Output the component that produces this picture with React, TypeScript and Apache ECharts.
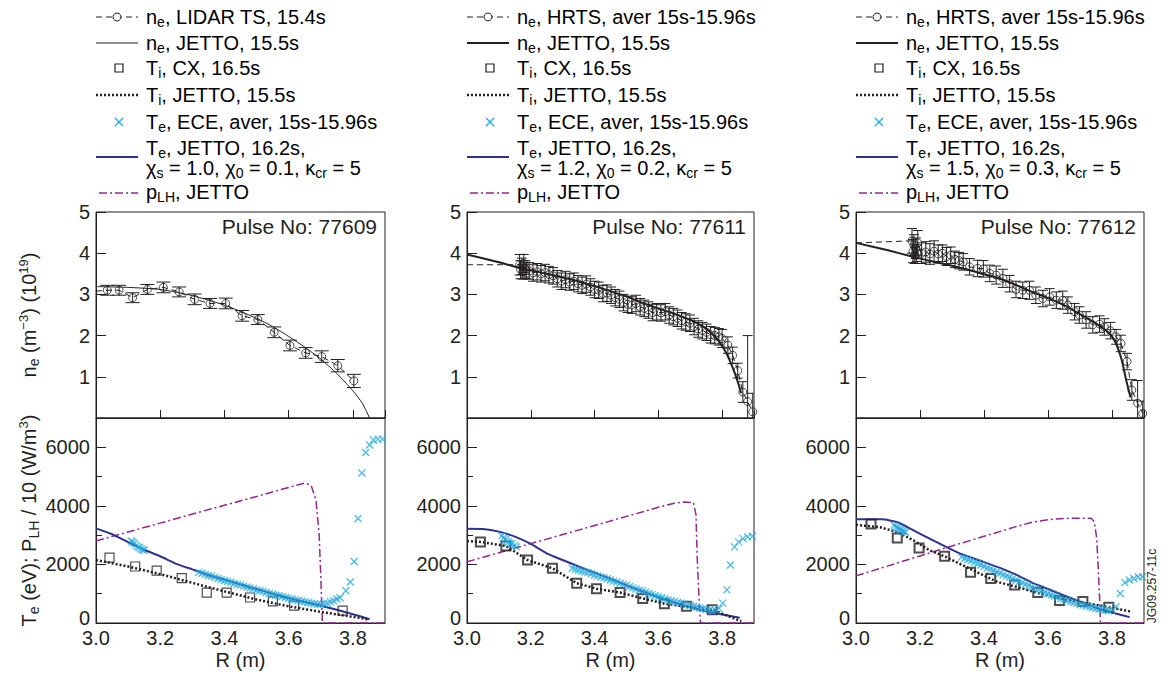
import React, { useEffect, useRef } from 'react';
import * as echarts from 'echarts';

const FONT = '"Liberation Sans", Arial, Helvetica, sans-serif';
const INK = '#231f20';
const BLUE = '#2e3192';
const CYAN = '#1fa9e1';
const PURPLE = '#93278f';

const pulses = ['77609', '77611', '77612'];
const neSources = ['LIDAR TS, 15.4s', 'HRTS, aver 15s-15.96s', 'HRTS, aver 15s-15.96s'];
const chiS = ['1.0', '1.2', '1.5'];
const chi0 = ['0.1', '0.2', '0.3'];
const xTickLabels = ['3.0', '3.2', '3.4', '3.6', '3.8'];

// measured n_e : [R, value, error]
const neMeas77609 = [
  [3.035, 3.10, 0.12], [3.072, 3.10, 0.12], [3.114, 2.92, 0.12], [3.160, 3.12, 0.12], [3.210, 3.17, 0.13],
  [3.259, 3.06, 0.12], [3.307, 2.88, 0.13], [3.355, 2.78, 0.12], [3.404, 2.78, 0.13], [3.455, 2.48, 0.13],
  [3.504, 2.39, 0.12], [3.555, 2.08, 0.13], [3.604, 1.76, 0.13], [3.653, 1.58, 0.13], [3.703, 1.49, 0.14],
  [3.753, 1.27, 0.15], [3.803, 0.90, 0.16],
];
const neMeas77611 = [
  [3.165, 3.72, 0.25], [3.168, 3.60, 0.22], [3.172, 3.68, 0.2], [3.175, 3.55, 0.18], [3.178, 3.75, 0.22],
  [3.182, 3.62, 0.2], [3.186, 3.58, 0.2], [3.195, 3.57, 0.2], [3.207, 3.52, 0.2], [3.220, 3.55, 0.2],
  [3.232, 3.50, 0.2], [3.245, 3.53, 0.2], [3.257, 3.48, 0.2], [3.270, 3.45, 0.2], [3.283, 3.38, 0.2],
  [3.296, 3.32, 0.2], [3.309, 3.36, 0.2], [3.322, 3.30, 0.2], [3.335, 3.32, 0.2], [3.348, 3.26, 0.2],
  [3.361, 3.22, 0.2], [3.374, 3.25, 0.2], [3.387, 3.18, 0.2], [3.400, 3.12, 0.2], [3.413, 3.10, 0.2],
  [3.426, 3.02, 0.2], [3.439, 3.03, 0.2], [3.452, 2.98, 0.2], [3.465, 2.92, 0.2], [3.478, 2.88, 0.2],
  [3.491, 2.80, 0.2], [3.504, 2.76, 0.2], [3.517, 2.74, 0.2], [3.530, 2.78, 0.2], [3.543, 2.70, 0.2],
  [3.556, 2.66, 0.2], [3.569, 2.62, 0.2], [3.582, 2.56, 0.2], [3.595, 2.58, 0.2], [3.608, 2.55, 0.2],
  [3.622, 2.58, 0.2], [3.634, 2.50, 0.2], [3.647, 2.46, 0.2], [3.660, 2.42, 0.2], [3.673, 2.36, 0.2],
  [3.686, 2.33, 0.2], [3.699, 2.30, 0.2], [3.712, 2.22, 0.2], [3.725, 2.16, 0.2], [3.738, 2.12, 0.2],
  [3.751, 2.08, 0.2], [3.764, 2.02, 0.2], [3.777, 2.00, 0.2], [3.790, 1.97, 0.2], [3.800, 1.93, 0.22],
  [3.818, 1.77, 0.2], [3.833, 1.52, 0.2], [3.849, 1.15, 0.18], [3.865, 0.63, 0.25], [3.880, 0.40, 1.6],
  [3.896, 0.15, 0.45],
];
const neMeas77612 = [
  [3.175, 4.30, 0.3], [3.178, 4.05, 0.28], [3.181, 4.20, 0.25], [3.184, 3.95, 0.2], [3.187, 4.12, 0.25],
  [3.190, 4.00, 0.2], [3.193, 4.25, 0.3], [3.205, 4.00, 0.25], [3.218, 4.03, 0.25], [3.231, 3.98, 0.25],
  [3.244, 4.05, 0.25], [3.257, 3.98, 0.22], [3.270, 4.00, 0.2], [3.283, 3.92, 0.22], [3.296, 3.95, 0.2],
  [3.309, 3.85, 0.2], [3.322, 3.82, 0.2], [3.335, 3.79, 0.2], [3.355, 3.67, 0.2], [3.380, 3.63, 0.2],
  [3.398, 3.62, 0.2], [3.418, 3.51, 0.2], [3.438, 3.47, 0.22], [3.459, 3.39, 0.22], [3.480, 3.26, 0.2],
  [3.500, 3.12, 0.2], [3.521, 3.10, 0.2], [3.542, 3.10, 0.22], [3.562, 2.98, 0.2], [3.584, 2.90, 0.2],
  [3.605, 2.94, 0.2], [3.626, 2.86, 0.2], [3.646, 2.86, 0.22], [3.662, 2.74, 0.2], [3.683, 2.58, 0.2],
  [3.698, 2.50, 0.2], [3.719, 2.38, 0.2], [3.740, 2.26, 0.2], [3.761, 2.28, 0.2], [3.776, 2.21, 0.2],
  [3.795, 2.12, 0.2], [3.813, 1.97, 0.18], [3.828, 1.81, 0.2], [3.847, 1.37, 0.2], [3.862, 0.68, 0.25],
  [3.880, 0.36, 0.55], [3.896, 0.11, 0.3],
];
const neLead = [[3.0, 3.08], [3.0, 3.72], [3.0, 4.25]];

const neJetto77609 = [[3.0, 3.19], [3.1, 3.17], [3.2, 3.12], [3.3, 2.97], [3.4, 2.74], [3.5, 2.42], [3.55, 2.22], [3.6, 1.98], [3.65, 1.72], [3.7, 1.43], [3.75, 1.08], [3.8, 0.66], [3.83, 0.35], [3.852, 0.0]];
const neJetto77611 = [[3.0, 3.97], [3.1, 3.78], [3.167, 3.64], [3.25, 3.5], [3.333, 3.35], [3.4, 3.2], [3.45, 3.08], [3.5, 2.95], [3.542, 2.82], [3.6, 2.66], [3.646, 2.54], [3.7, 2.38], [3.75, 2.17], [3.79, 1.86], [3.81, 1.62], [3.823, 1.41], [3.844, 1.0], [3.86, 0.6]];
const neJetto77612 = [[3.0, 4.25], [3.1, 4.07], [3.18, 3.91], [3.25, 3.78], [3.33, 3.64], [3.4, 3.49], [3.45, 3.38], [3.5, 3.23], [3.55, 3.06], [3.6, 2.91], [3.65, 2.74], [3.7, 2.52], [3.75, 2.29], [3.79, 2.07], [3.81, 1.85], [3.83, 1.42], [3.845, 0.9], [3.858, 0.5]];

const teJetto77609 = [[3.0, 3230], [3.05, 3030], [3.1, 2760], [3.15, 2500], [3.2, 2280], [3.25, 2020], [3.3, 1830], [3.35, 1640], [3.4, 1480], [3.45, 1320], [3.5, 1160], [3.55, 1000], [3.6, 850], [3.65, 720], [3.7, 590], [3.75, 450], [3.8, 300], [3.852, 130]];
const teJetto77611 = [[3.0, 3220], [3.05, 3210], [3.1, 3120], [3.15, 2950], [3.2, 2700], [3.25, 2380], [3.3, 2150], [3.35, 1930], [3.4, 1720], [3.45, 1510], [3.5, 1290], [3.55, 1080], [3.6, 880], [3.65, 700], [3.7, 540], [3.75, 400], [3.8, 290], [3.855, 180]];
const teJetto77612 = [[3.0, 3540], [3.08, 3540], [3.13, 3440], [3.18, 3160], [3.23, 2880], [3.28, 2610], [3.33, 2350], [3.4, 2080], [3.45, 1880], [3.5, 1650], [3.55, 1380], [3.6, 1160], [3.65, 940], [3.7, 730], [3.75, 520], [3.8, 360], [3.855, 200]];

const tiJetto77609 = [[3.0, 2150], [3.1, 1930], [3.2, 1670], [3.3, 1370], [3.4, 1080], [3.5, 800], [3.6, 570], [3.7, 380], [3.8, 210], [3.85, 120]];
const tiJetto77611 = [[3.0, 2800], [3.042, 2770], [3.122, 2630], [3.19, 2150], [3.268, 1870], [3.344, 1360], [3.406, 1170], [3.48, 1040], [3.551, 840], [3.619, 660], [3.688, 560], [3.769, 450], [3.86, 60]];
const tiJetto77612 = [[3.0, 3350], [3.075, 3270], [3.13, 3100], [3.18, 2820], [3.23, 2480], [3.28, 2260], [3.36, 1830], [3.44, 1410], [3.5, 1240], [3.57, 1020], [3.65, 810], [3.75, 620], [3.86, 390]];

const tiCx77609 = [[3.042, 2230], [3.122, 1930], [3.189, 1790], [3.267, 1530], [3.345, 1040], [3.407, 1040], [3.480, 870], [3.551, 740], [3.617, 590], [3.768, 420]];
const tiCx77611 = [[3.042, 2770], [3.122, 2630], [3.190, 2150], [3.268, 1870], [3.344, 1360], [3.406, 1170], [3.480, 1040], [3.551, 840], [3.619, 660], [3.688, 570], [3.769, 450]];
const tiCx77612 = [[3.047, 3380], [3.129, 2900], [3.197, 2560], [3.277, 2280], [3.358, 1730], [3.421, 1520], [3.496, 1300], [3.568, 1040], [3.636, 770], [3.709, 730], [3.790, 540]];

const teEce77609 = [
  [3.110, 2800], [3.115, 2760], [3.120, 2720], [3.125, 2650], [3.130, 2600], [3.135, 2580], [3.140, 2530], [3.145, 2500], [3.150, 2480],
  [3.32, 1730], [3.33, 1700], [3.34, 1660], [3.35, 1620], [3.36, 1600], [3.37, 1560], [3.38, 1520], [3.39, 1480], [3.40, 1450],
  [3.41, 1420], [3.42, 1390], [3.43, 1350], [3.44, 1320], [3.45, 1300], [3.46, 1260], [3.47, 1230], [3.48, 1200], [3.49, 1170],
  [3.50, 1130], [3.51, 1100], [3.52, 1080], [3.53, 1040], [3.54, 1010], [3.55, 980], [3.56, 950], [3.57, 930], [3.58, 900],
  [3.59, 870], [3.60, 840], [3.61, 820], [3.62, 790], [3.63, 770], [3.64, 740], [3.65, 720], [3.66, 700], [3.67, 680],
  [3.68, 660], [3.69, 640], [3.70, 630], [3.71, 660], [3.72, 680], [3.73, 720], [3.74, 760], [3.75, 820], [3.76, 860],
  [3.778, 1100], [3.792, 1400], [3.804, 2100], [3.816, 3570], [3.828, 5120], [3.840, 5820], [3.852, 6080], [3.864, 6250],
  [3.878, 6280], [3.892, 6280],
];
const teEce77611 = [
  [3.110, 2980], [3.115, 2900], [3.120, 2850], [3.125, 2800], [3.130, 2760], [3.135, 2720], [3.140, 2700], [3.150, 2650], [3.155, 2600],
  [3.33, 1870], [3.34, 1830], [3.35, 1800], [3.36, 1770], [3.37, 1740], [3.38, 1720], [3.39, 1680], [3.40, 1640], [3.41, 1610],
  [3.42, 1570], [3.43, 1540], [3.44, 1510], [3.45, 1470], [3.46, 1430], [3.47, 1400], [3.48, 1360], [3.49, 1320], [3.50, 1290],
  [3.51, 1240], [3.52, 1200], [3.53, 1160], [3.54, 1120], [3.55, 1090], [3.56, 1050], [3.57, 1010], [3.58, 970], [3.59, 930],
  [3.60, 890], [3.61, 860], [3.62, 820], [3.63, 790], [3.64, 760], [3.65, 730], [3.66, 700], [3.67, 680], [3.68, 650],
  [3.69, 620], [3.70, 600], [3.71, 570], [3.72, 540], [3.73, 510], [3.74, 490], [3.75, 460], [3.76, 440], [3.77, 420],
  [3.78, 430], [3.79, 500], [3.802, 680], [3.815, 1130], [3.826, 1980], [3.839, 2600], [3.852, 2770], [3.866, 2880],
  [3.880, 2940], [3.895, 2960],
];
const teEce77612 = [
  [3.120, 3330], [3.125, 3280], [3.130, 3250], [3.135, 3200], [3.140, 3180], [3.145, 3150], [3.150, 3120], [3.155, 3100],
  [3.33, 2250], [3.34, 2200], [3.35, 2160], [3.36, 2120], [3.37, 2070], [3.38, 2030], [3.39, 1980], [3.40, 1930], [3.41, 1880],
  [3.42, 1840], [3.43, 1790], [3.44, 1740], [3.45, 1700], [3.46, 1650], [3.47, 1600], [3.48, 1560], [3.49, 1510], [3.50, 1460],
  [3.51, 1410], [3.52, 1370], [3.53, 1320], [3.54, 1280], [3.55, 1230], [3.56, 1180], [3.57, 1140], [3.58, 1090], [3.59, 1050],
  [3.60, 1000], [3.61, 960], [3.62, 920], [3.63, 880], [3.64, 840], [3.65, 800], [3.66, 770], [3.67, 730], [3.68, 700],
  [3.69, 670], [3.70, 640], [3.71, 610], [3.72, 580], [3.73, 550], [3.74, 530], [3.75, 500], [3.76, 480], [3.77, 460],
  [3.78, 440], [3.79, 420], [3.80, 440], [3.813, 560], [3.826, 1010], [3.840, 1380], [3.854, 1470], [3.868, 1520],
  [3.882, 1570], [3.895, 1580],
];

const pLh77609 = [[3.0, 2800], [3.1, 3110], [3.2, 3410], [3.3, 3720], [3.4, 4020], [3.5, 4320], [3.6, 4630], [3.65, 4780], [3.67, 4700], [3.685, 4200], [3.695, 3000], [3.70, 1600], [3.705, 0], [3.9, 0]];
const pLh77611 = [[3.0, 2090], [3.1, 2400], [3.2, 2710], [3.3, 3020], [3.4, 3330], [3.5, 3640], [3.6, 3950], [3.65, 4090], [3.68, 4130], [3.71, 4110], [3.718, 3700], [3.722, 2200], [3.727, 1000], [3.732, 0], [3.9, 0]];
const pLh77612 = [[3.0, 1610], [3.1, 1950], [3.2, 2290], [3.3, 2630], [3.4, 2960], [3.5, 3290], [3.55, 3440], [3.6, 3530], [3.65, 3570], [3.7, 3580], [3.735, 3580], [3.745, 3450], [3.752, 2900], [3.757, 1900], [3.761, 900], [3.764, 0], [3.9, 0]];

const neMeas = [neMeas77609, neMeas77611, neMeas77612];
const neJetto = [neJetto77609, neJetto77611, neJetto77612];
const teJetto = [teJetto77609, teJetto77611, teJetto77612];
const tiJetto = [tiJetto77609, tiJetto77611, tiJetto77612];
const tiCx = [tiCx77609, tiCx77611, tiCx77612];
const teEce = [teEce77609, teEce77611, teEce77612];
const pLh = [pLh77609, pLh77611, pLh77612];

const colLeft = [96, 467, 856];
const colWidth = [289, 287, 288];
const TOP_Y = 212;
const TOP_H = 206;
const BOT_Y = 418;
const BOT_H = 205;

const rich = {
  t: { fontSize: 20, fontFamily: FONT, color: INK, lineHeight: 24, verticalAlign: 'middle' },
  s: { fontSize: 14, fontFamily: FONT, color: INK, lineHeight: 14, verticalAlign: 'bottom' },
  p: { fontSize: 13, fontFamily: FONT, color: INK, lineHeight: 14, verticalAlign: 'top' },
};

function legend(c: number) {
  const dx = colLeft[c] - 96;
  const x0 = 96 + dx;
  const x1 = 138 + dx;
  const tx = 146 + dx;
  const rows = [
    `{t|n}{s|e}{t|, ${neSources[c]}}`,
    '{t|n}{s|e}{t|, JETTO, 15.5s}',
    '{t|T}{s|i}{t|, CX, 16.5s}',
    '{t|T}{s|i}{t|, JETTO, 15.5s}',
    '{t|T}{s|e}{t|, ECE, aver, 15s-15.96s}',
    '{t|T}{s|e}{t|, JETTO, 16.2s,}',
    `{t|χ}{s|s}{t| = ${chiS[c]}, χ}{s|0}{t| = ${chi0[c]}, κ}{s|cr}{t| = 5}`,
    '{t|p}{s|LH}{t|, JETTO}',
  ];
  const ys = [17, 43, 68, 95, 122, 148, 168, 192];
  const els: any[] = rows.map((r, i) => ({
    type: 'text', x: tx, y: ys[i],
    style: { text: r, rich, align: 'left', verticalAlign: 'middle' },
  }));
  els.push({ type: 'line', shape: { x1: x0, y1: 17, x2: x1, y2: 17 }, style: { stroke: INK, lineWidth: 1, lineDash: [6, 4] } });
  els.push({ type: 'circle', shape: { cx: x0 + 21, cy: 17, r: 4 }, style: { fill: '#fff', stroke: INK, lineWidth: 1 } });
  els.push({ type: 'line', shape: { x1: x0, y1: 43, x2: x1, y2: 43 }, style: { stroke: INK, lineWidth: c === 0 ? 1 : 2 } });
  els.push({ type: 'rect', shape: { x: x0 + 19, y: 64, width: 8, height: 8 }, style: { fill: 'none', stroke: INK, lineWidth: 1.2 } });
  els.push({ type: 'line', shape: { x1: x0, y1: 95, x2: x1, y2: 95 }, style: { stroke: INK, lineWidth: 2.5, lineDash: [2, 2] } });
  els.push({ type: 'line', shape: { x1: x0 + 19, y1: 118, x2: x0 + 27, y2: 126 }, style: { stroke: CYAN, lineWidth: 1.3 } });
  els.push({ type: 'line', shape: { x1: x0 + 27, y1: 118, x2: x0 + 19, y2: 126 }, style: { stroke: CYAN, lineWidth: 1.3 } });
  els.push({ type: 'line', shape: { x1: x0, y1: 157, x2: x1, y2: 157 }, style: { stroke: BLUE, lineWidth: 2 } });
  els.push({ type: 'line', shape: { x1: x0 + 3, y1: 193, x2: x1, y2: 193 }, style: { stroke: PURPLE, lineWidth: 1.5, lineDash: [8, 3, 2, 3] } });
  els.push({
    type: 'text', x: colLeft[c] + colWidth[c] - 8, y: 226,
    style: { text: `Pulse No: ${pulses[c]}`, fontSize: 21, fontFamily: FONT, fill: INK, align: 'right', verticalAlign: 'middle' },
  });
  return els;
}

function errorBars(cap: number, lw: number) {
  return (params: any, api: any) => {
    const x = api.value(0);
    const lo = api.value(1);
    const hi = api.value(2);
    const a = api.coord([x, lo]);
    const b = api.coord([x, hi]);
    const st = { stroke: INK, lineWidth: lw };
    return {
      type: 'group',
      children: [
        { type: 'line', shape: { x1: a[0], y1: a[1], x2: b[0], y2: b[1] }, style: st },
        { type: 'line', shape: { x1: a[0] - cap, y1: a[1], x2: a[0] + cap, y2: a[1] }, style: st },
        { type: 'line', shape: { x1: b[0] - cap, y1: b[1], x2: b[0] + cap, y2: b[1] }, style: st },
      ],
    };
  };
}

function buildOption() {
  const grid: any[] = [];
  const xAxis: any[] = [];
  const yAxis: any[] = [];
  const series: any[] = [];
  const graphics: any[] = [];
  for (let c = 0; c < 3; c++) {
    grid.push({ left: colLeft[c], top: TOP_Y, width: colWidth[c], height: TOP_H, show: true, borderColor: INK, borderWidth: 1, backgroundColor: 'transparent' });
    grid.push({ left: colLeft[c], top: BOT_Y, width: colWidth[c], height: BOT_H, show: true, borderColor: INK, borderWidth: 1, backgroundColor: 'transparent' });
    for (let k = 0; k < 2; k++) {
      const isTop = k === 0;
      const gi = c * 2 + k;
      xAxis.push({
        type: 'value', gridIndex: gi, min: 3.0, max: 3.9, interval: 0.2,
        axisLine: { show: true, lineStyle: { color: INK, width: 1 } },
        axisTick: { show: isTop, inside: true, length: 8, lineStyle: { color: INK } },
        axisLabel: {
          show: !isTop, fontSize: 20, fontFamily: FONT, color: INK, margin: 6, lineHeight: 18,
          formatter: (v: number) => { const s = v.toFixed(1); return xTickLabels.includes(s) ? s : ''; },
        },
        splitLine: { show: false },
        name: isTop ? '' : 'R (m)', nameLocation: 'middle', nameGap: 27,
        nameTextStyle: { fontSize: 20, fontFamily: FONT, color: INK },
      });
      yAxis.push({
        type: 'value', gridIndex: gi, min: 0, max: isTop ? 5 : 7000, interval: isTop ? 1 : 2000,
        axisLine: { show: true, lineStyle: { color: INK, width: 1 } },
        axisTick: { show: true, inside: true, length: 10, lineStyle: { color: INK } },
        minorTick: { show: !isTop, splitNumber: 2, length: 6, lineStyle: { color: INK } },
        axisLabel: {
          fontSize: 20, fontFamily: FONT, color: INK, margin: 6, lineHeight: 18,
          formatter: (v: number) => (isTop ? (v === 0 ? '' : String(v)) : (v > 6500 ? '' : v === 0 ? '{z|0}' : String(v))),
          rich: { z: { fontSize: 20, fontFamily: FONT, color: INK, lineHeight: 16, padding: [0, 0, 10, 0] } },
        },
        splitLine: { show: false },
        minorSplitLine: { show: false },
        name: c === 0 ? (isTop ? '{t|n}{s|e}{t| (m}{p|−3}{t|) (10}{p|19}{t|)}' : '{t|T}{s|e}{t| (eV); P}{s|LH}{t| / 10 (W/m}{p|3}{t|)}') : '',
        nameLocation: 'middle', nameGap: 55, nameRotate: 90,
        nameTextStyle: { rich },
      });
    }
    const ti = c * 2;
    const bi = c * 2 + 1;
    const meas = neMeas[c];
    series.push({
      type: 'line', xAxisIndex: ti, yAxisIndex: ti, symbol: 'none', z: 3,
      data: [neLead[c], ...meas.map((d) => [d[0], d[1]])],
      lineStyle: { color: INK, width: 1, type: [6, 4] },
    });
    series.push({
      type: 'custom', xAxisIndex: ti, yAxisIndex: ti, z: 3, clip: true,
      renderItem: errorBars(c === 0 ? 7 : 5, 1),
      encode: { x: 0, y: [1, 2] },
      data: meas.map((d) => [d[0], d[1] - d[2], d[1] + d[2]]),
    });
    series.push({
      type: 'scatter', xAxisIndex: ti, yAxisIndex: ti, symbol: 'circle', symbolSize: 8, z: 4,
      itemStyle: { color: 'rgba(255,255,255,0)', borderColor: INK, borderWidth: 1 },
      data: meas.map((d) => [d[0], d[1]]),
    });
    series.push({
      type: 'line', xAxisIndex: ti, yAxisIndex: ti, symbol: 'none', z: 3, smooth: 0.2,
      data: neJetto[c],
      lineStyle: { color: INK, width: c === 0 ? 1 : 2 },
    });
    series.push({
      type: 'line', xAxisIndex: bi, yAxisIndex: bi, symbol: 'none', z: 2,
      data: pLh[c],
      lineStyle: { color: PURPLE, width: 1.5, type: [8, 3, 2, 3] },
    });
    series.push({
      type: 'line', xAxisIndex: bi, yAxisIndex: bi, symbol: 'none', z: 3, smooth: 0.2,
      data: teJetto[c],
      lineStyle: { color: BLUE, width: 2 },
    });
    series.push({
      type: 'line', xAxisIndex: bi, yAxisIndex: bi, symbol: 'none', z: 3,
      data: tiJetto[c],
      lineStyle: { color: INK, width: 2.5, type: [2, 2] },
    });
    series.push({
      type: 'scatter', xAxisIndex: bi, yAxisIndex: bi, symbol: 'rect', symbolSize: 9, z: 4,
      itemStyle: { color: 'rgba(255,255,255,0)', borderColor: INK, borderWidth: c === 0 ? 1.2 : 2 },
      data: tiCx[c],
    });
    series.push({
      type: 'scatter', xAxisIndex: bi, yAxisIndex: bi, symbol: 'path://M0,0L10,10M10,0L0,10', symbolSize: 7, z: 4,
      itemStyle: { color: 'rgba(255,255,255,0)', borderColor: CYAN, borderWidth: 1.3 },
      data: teEce[c],
    });
    graphics.push(...legend(c));
  }
  graphics.push({
    type: 'text', x: 1152, y: 586, rotation: Math.PI / 2,
    style: { text: 'JG09.257-11c', fontSize: 12, fontFamily: FONT, fill: INK, align: 'center', verticalAlign: 'middle' },
  });
  return {
    animation: false,
    backgroundColor: '#ffffff',
    grid, xAxis, yAxis, series,
    graphic: { elements: graphics },
  };
}

export default function App() {
  const ref = useRef<HTMLDivElement>(null);
  useEffect(() => {
    if (!ref.current) return;
    const chart = echarts.init(ref.current, undefined, { renderer: 'svg' });
    chart.setOption(buildOption() as any);
    return () => chart.dispose();
  }, []);
  return <div ref={ref} style={{ position: 'fixed', left: 0, top: 0, width: 1168, height: 677 }} />;
}
